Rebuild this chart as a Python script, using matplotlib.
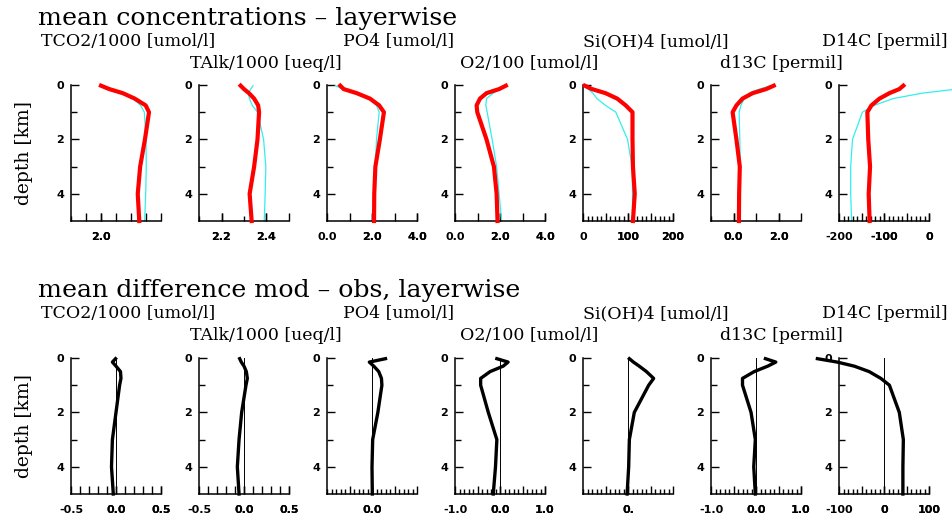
import numpy as np
import matplotlib
matplotlib.use("Agg")
import matplotlib.pyplot as plt
from matplotlib.ticker import FixedLocator

# layer depths [km]
depth = [0.025, 0.15, 0.3, 0.5, 0.75, 1.0, 2.0, 3.0, 4.0, 5.0]

# layer means, model (red) and observations (cyan)
tco2_mod = [2.00, 2.055, 2.145, 2.225, 2.298, 2.32, 2.293, 2.261, 2.245, 2.255]
tco2_obs = [2.01, 2.077, 2.145, 2.214, 2.264, 2.289, 2.30, 2.302, 2.298, 2.291]
talk_mod = [2.285, 2.30, 2.322, 2.345, 2.363, 2.367, 2.36, 2.345, 2.325, 2.334]
talk_obs = [2.34, 2.33, 2.32, 2.324, 2.337, 2.36, 2.387, 2.397, 2.394, 2.39]
po4_mod = [0.59, 0.74, 1.32, 1.91, 2.32, 2.53, 2.35, 2.15, 2.10, 2.09]
po4_obs = [0.37, 0.70, 1.32, 1.91, 2.20, 2.32, 2.20, 2.15, 2.12, 2.10]
o2_mod = [2.26, 1.96, 1.40, 1.11, 0.96, 0.99, 1.40, 1.73, 1.85, 1.89]
o2_obs = [2.21, 1.96, 1.70, 1.40, 1.37, 1.43, 1.65, 1.85, 1.96, 2.07]
si_mod = [4, 20, 50, 76, 95, 110, 110, 111, 115, 111]
si_obs = [1.5, 11, 22, 31, 50, 73, 99, 109, 110, 110]
d13c_mod = [1.79, 1.45, 0.85, 0.40, 0.13, -0.04, 0.13, 0.28, 0.25, 0.24]
d13c_obs = [1.67, 1.15, 0.70, 0.48, 0.33, 0.25, 0.28, 0.30, 0.30, 0.27]
d14c_mod = [-57, -66, -88, -110, -128, -137, -135, -131, -134, -132]
d14c_obs = [100, 62, -15, -80, -122, -148, -170, -174, -174, -172]

# layer mean differences mod - obs
tco2_diff = [-0.005, -0.04, 0.0, 0.05, 0.055, 0.04, 0.0, -0.04, -0.05, -0.03]
talk_diff = [-0.048, -0.03, 0.0, 0.026, 0.037, 0.022, -0.026, -0.055, -0.074, -0.055]
po4_diff = [0.30, -0.06, 0.04, 0.15, 0.21, 0.22, 0.13, 0.015, 0.0, 0.007]
o2_diff = [-0.07, 0.18, 0.07, -0.22, -0.43, -0.43, -0.26, -0.07, -0.10, -0.15]
si_diff = [3, 12, 25, 41, 57, 46, 14, 3, 1.5, -2]
d13c_diff = [0.21, 0.44, 0.26, -0.04, -0.30, -0.30, -0.11, -0.015, -0.05, -0.015]
d14c_diff = [-148, -104, -66, -33, -7, 12, 34, 43, 42, 42]

names = ["TCO2/1000 [umol/l]", "TAlk/1000 [ueq/l]", "PO4 [umol/l]",
         "O2/100 [umol/l]", "Si(OH)4 [umol/l]", "d13C [permil]", "D14C [permil]"]
model = [tco2_mod, talk_mod, po4_mod, o2_mod, si_mod, d13c_mod, d14c_mod]
obs = [tco2_obs, talk_obs, po4_obs, o2_obs, si_obs, d13c_obs, d14c_obs]
diff = [tco2_diff, talk_diff, po4_diff, o2_diff, si_diff, d13c_diff, d14c_diff]

# x axes: (xmin, xmax, small tick step, big ticks, labelled ticks)
top_axes = [
    (1.8, 2.4, 0.1, [1.9, 2.0, 2.1, 2.2, 2.3, 2.4], {2.0: "2.0"}),
    (2.1, 2.5, 0.1, [2.2, 2.4, 2.5], {2.2: "2.2", 2.4: "2.4"}),
    (0.0, 4.0, 1.0, [1, 2, 3, 4], {0: "0.0", 2: "2.0", 4: "4.0"}),
    (0.0, 4.0, 1.0, [1, 2, 3, 4], {0: "0.0", 2: "2.0", 4: "4.0"}),
    (0, 200, 10, [50, 100, 150, 200], {0: "0", 100: "100", 200: "200"}),
    (-1.0, 3.0, 1.0, [0, 1, 2, 3], {0: "0.0", 2: "2.0"}),
    (-200, 0, 10, [-150, -100, -50, 0], {-200: "-200", -100: "-100", 0: "0"}),
]
bot_axes = [
    (-0.5, 0.5, 0.1, [-0.4, -0.3, -0.2, -0.1, 0.0, 0.1, 0.2, 0.3, 0.4, 0.5],
     {-0.5: "-0.5", 0.0: "0.0", 0.5: "0.5"}),
    (-0.5, 0.5, 0.1, [-0.4, -0.3, -0.2, -0.1, 0.0, 0.1, 0.2, 0.3, 0.4, 0.5],
     {-0.5: "-0.5", 0.0: "0.0", 0.5: "0.5"}),
    (-1.0, 1.0, 0.1, [-0.5, 0.0, 0.5, 1.0], {0.0: "0.0"}),
    (-1.0, 1.0, 0.1, [-0.5, 0.0, 0.5, 1.0], {-1.0: "-1.0", 0.0: "0.0", 1.0: "1.0"}),
    (-100, 100, 10, [-50, 0, 50, 100], {0: "0."}),
    (-1.0, 1.0, 0.1, [-0.5, 0.0, 0.5, 1.0], {-1.0: "-1.0", 0.0: "0.0", 1.0: "1.0"}),
    (-100, 100, 10, [-50, 0, 50, 100], {-100: "-100", 0: "0", 100: "100"}),
]

W, H = 952, 516
fig = plt.figure(figsize=(W / 100, H / 100), dpi=100)
fig.patch.set_facecolor("white")

serif = "DejaVu Serif"
lefts = [71 + 128 * i for i in range(7)]
title_dx = [57, 67, 72, 74, 73, 70, 46]   # title centre right of left spine [px]
title_dy = [0, 22, 0, 22, 0, 22, 0]
pw, ph = 90, 136


def setup(ax, spec):
    x0, x1, step, big, lab = spec
    ax.set_xlim(x0, x1)
    ax.set_ylim(5, 0)
    for s in ("top", "right"):
        ax.spines[s].set_visible(False)
    for s in ("left", "bottom"):
        ax.spines[s].set_linewidth(1.1)
    ax.patch.set_alpha(0)
    n = int(round((x1 - x0) / step))
    small = [x0 + k * step for k in range(n + 1)]
    ax.xaxis.set_minor_locator(FixedLocator(small))
    ax.set_xticks(big + list(lab.keys()))
    ax.set_xticklabels([""] * len(big) + list(lab.values()))
    ax.tick_params(axis="x", which="major", direction="in", length=6, width=1.0,
                   labelsize=8, pad=8)
    ax.tick_params(axis="x", which="minor", direction="in", length=3.5, width=1.0)
    ax.set_yticks([0, 2, 4])
    ax.set_yticklabels(["0", "2", "4"])
    ax.yaxis.set_minor_locator(FixedLocator([1, 3]))
    ax.tick_params(axis="y", which="major", direction="in", length=6, width=1.0,
                   labelsize=8, pad=5)
    ax.tick_params(axis="y", which="minor", direction="in", length=4, width=1.0)
    for t in ax.get_xticklabels() + ax.get_yticklabels():
        t.set_fontweight("bold")


def row(top_px, specs, curves, title, title_px):
    fig.text(38 / W, 1 - title_px / H, title, family=serif, fontsize=18.2,
             va="center", ha="left")
    axes = []
    for i in range(7):
        rect = [lefts[i] / W, 1 - (top_px + ph) / H, pw / W, ph / H]
        ax = fig.add_axes(rect)
        setup(ax, specs[i])
        for xs, kw in curves(i):
            ax.plot(xs, depth, clip_on=False, solid_joinstyle="round", **kw)
        fig.text((lefts[i] + title_dx[i]) / W,
                 1 - (title_px + 24 + title_dy[i]) / H, names[i],
                 family=serif, fontsize=12.5, ha="center", va="center")
        if i == 0:
            ax.set_ylabel("depth [km]", family=serif, fontsize=13.5, labelpad=17)
        axes.append(ax)
    return axes


def conc(i):
    return [(obs[i], dict(color="#33eeee", lw=0.9, zorder=2)),
            (model[i], dict(color="red", lw=3.0, zorder=3))]


def anom(i):
    return [(diff[i], dict(color="black", lw=2.4, zorder=3))]


row(85, top_axes, conc, "mean concentrations \u2013 layerwise", 18)
bottom = row(358, bot_axes, anom, "mean difference mod \u2013 obs, layerwise", 290)

# zero reference lines in the difference panels
for ax in bottom:
    ax.axvline(0, color="black", lw=0.7, zorder=1)

fig.savefig("out.png", dpi=100)
